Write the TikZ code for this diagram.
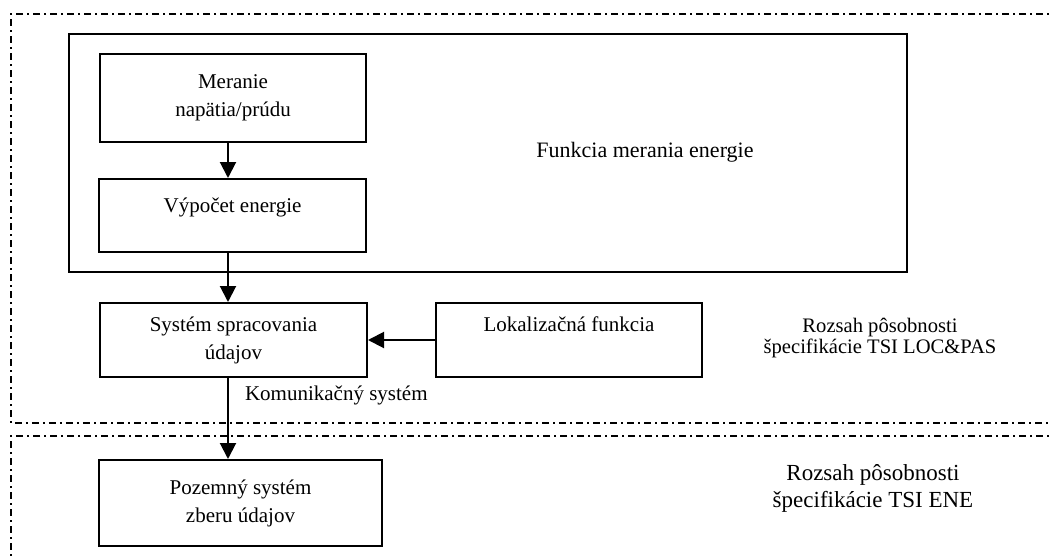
\documentclass[tikz,border=0pt]{standalone}
\usepackage{fontspec}
\setmainfont{Liberation Serif}
\usetikzlibrary{arrows.meta}

\tikzset{
  blok/.style={draw, line width=1pt, align=center, inner sep=2pt,
    font=\fontsize{10.5}{14}\selectfont},
  jedenriadok/.style={text height=8pt, text depth=#1},
  hranica/.style={line width=0.8pt, dash pattern=on 3.5pt off 2pt on 1pt off 2pt},
  sipka/.style={-{Triangle[length=8pt,width=8pt]}, line width=1pt},
}

\begin{document}
\begin{tikzpicture}[x=0.5pt, y=-0.5pt]
  \useasboundingbox (0,0) rectangle (1051,558);
  \clip (0,0) rectangle (1051,558);

  % Hranice rozsahu špecifikácií
  \draw[hranica] (1060,14) -- (11,14) -- (11,423) -- (1060,423);
  \draw[hranica] (1060,436) -- (11,436) -- (11,570);

  % Funkcia merania energie (vonkajší rámec)
  \node[draw, line width=1pt, minimum width=419pt, minimum height=119pt] (fme) at (488,153) {};
  \node[font=\fontsize{11}{14}\selectfont] (fmetext) at (645,152) {Funkcia merania energie};

  % Bloky
  \node[blok, minimum width=133pt, minimum height=44pt] (meranie) at (233,98) {Meranie\\napätia/prúdu};
  \node[blok, jedenriadok=11.5pt, minimum width=133.5pt, minimum height=36.5pt] (vypocet) at (232.5,215.5) {Výpočet energie};
  \node[blok, minimum width=133.5pt, minimum height=37pt] (system) at (233.5,340) {Systém spracovania\\údajov};
  \node[blok, jedenriadok=17pt, minimum width=133pt, minimum height=37pt] (lokal) at (569,340) {Lokalizačná funkcia};
  \node[blok, minimum width=141.5pt, minimum height=43pt] (pozemny) at (240.5,503) {Pozemný systém\\zberu údajov};

  % Stĺpec šípok
  \coordinate (os) at (228,0);

  % Šípky
  \draw[sipka] (meranie.south -| os) -- (vypocet.north -| os);
  \draw[sipka] (vypocet.south -| os) -- (system.north -| os);
  \draw[sipka] (lokal.west) -- (system.east);
  \draw[sipka] (system.south -| os) -- (pozemny.north -| os);

  % Popisy
  \node[anchor=west, font=\fontsize{10.5}{14}\selectfont] (komunikacia) at (238,395) {Komunikačný systém};
  \node[align=center, font=\fontsize{10.3}{10.5}\selectfont] (locpas) at (880,338) {Rozsah pôsobnosti\\špecifikácie TSI LOC\&PAS};
  \node[align=center, font=\fontsize{11.5}{13.5}\selectfont] (ene) at (873,488) {Rozsah pôsobnosti\\špecifikácie TSI ENE};

\end{tikzpicture}
\end{document}
